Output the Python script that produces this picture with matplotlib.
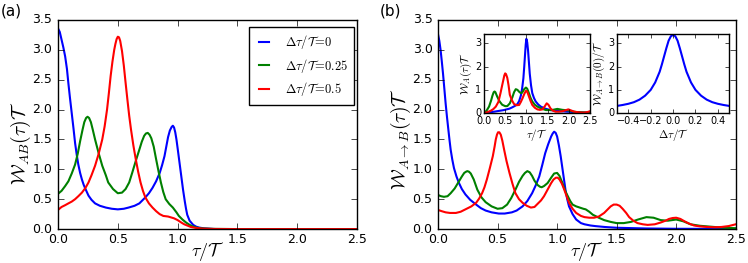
import matplotlib
matplotlib.use("Agg")
import matplotlib.pyplot as plt

# ---------------- data ----------------
# Panel (a): W_AB(tau) T
a_blue_x = [0.0, 0.015, 0.03, 0.045, 0.06, 0.075, 0.087, 0.1, 0.115, 0.13, 0.143, 0.157, 0.17, 0.185, 0.2,
            0.215, 0.23, 0.255, 0.28, 0.31, 0.35, 0.4, 0.45, 0.5, 0.55, 0.59, 0.64, 0.68, 0.71, 0.73, 0.76,
            0.79, 0.82, 0.85, 0.87, 0.89, 0.905, 0.92, 0.935, 0.95, 0.96, 0.97, 0.98, 0.99, 1.0, 1.015,
            1.03, 1.045, 1.06, 1.07, 1.08, 1.1, 1.13, 1.155, 1.18, 1.22, 1.27, 1.32, 1.5, 2.5]
a_blue_y = [3.36, 3.3, 3.17, 3.04, 2.89, 2.68, 2.44, 2.2, 1.94, 1.68, 1.44, 1.24, 1.08, 0.94, 0.83,
            0.74, 0.67, 0.56, 0.49, 0.43, 0.39, 0.36, 0.34, 0.33, 0.34, 0.36, 0.39, 0.43, 0.49, 0.53, 0.6,
            0.69, 0.8, 0.94, 1.07, 1.22, 1.38, 1.54, 1.65, 1.71, 1.73, 1.7, 1.62, 1.5, 1.35, 1.12,
            0.89, 0.66, 0.46, 0.34, 0.24, 0.14, 0.07, 0.04, 0.025, 0.012, 0.005, 0.0, 0.0, 0.0]
a_green_x = [0.0, 0.03, 0.06, 0.087, 0.115, 0.143, 0.165, 0.185, 0.205, 0.22, 0.235, 0.247, 0.26, 0.275,
             0.29, 0.31, 0.34, 0.37, 0.4, 0.42, 0.46, 0.5, 0.535, 0.565, 0.595, 0.62, 0.65, 0.68, 0.7,
             0.72, 0.735, 0.75, 0.765, 0.78, 0.8, 0.82, 0.84, 0.86, 0.88, 0.9, 0.93, 0.96, 0.99, 1.01,
             1.04, 1.07, 1.1, 1.13, 1.17, 1.21, 1.3, 1.5, 2.5]
a_green_y = [0.59, 0.64, 0.72, 0.8, 0.93, 1.08, 1.26, 1.47, 1.66, 1.79, 1.86, 1.88, 1.86, 1.79,
             1.67, 1.5, 1.27, 1.06, 0.9, 0.78, 0.67, 0.6, 0.61, 0.67, 0.78, 0.94, 1.14, 1.33, 1.46,
             1.56, 1.6, 1.61, 1.58, 1.52, 1.38, 1.17, 0.97, 0.78, 0.62, 0.5, 0.42, 0.36, 0.28, 0.22,
             0.16, 0.11, 0.07, 0.04, 0.02, 0.01, 0.003, 0.0, 0.0]
a_red_x = [0.0, 0.03, 0.06, 0.087, 0.115, 0.143, 0.17, 0.2, 0.23, 0.255, 0.28, 0.31, 0.34, 0.37, 0.39,
           0.41, 0.425, 0.44, 0.455, 0.47, 0.48, 0.49, 0.5, 0.51, 0.52, 0.535, 0.55, 0.565, 0.58, 0.595,
           0.61, 0.63, 0.65, 0.67, 0.69, 0.71, 0.73, 0.76, 0.79, 0.82, 0.85, 0.88, 0.92, 0.97, 1.0, 1.03,
           1.055, 1.08, 1.11, 1.15, 1.2, 1.3, 1.5, 2.5]
a_red_y = [0.32, 0.37, 0.4, 0.43, 0.46, 0.5, 0.55, 0.61, 0.69, 0.78, 0.9, 1.06, 1.26, 1.5, 1.72,
           2.0, 2.27, 2.56, 2.8, 3.0, 3.1, 3.18, 3.22, 3.21, 3.15, 2.98, 2.74, 2.45, 2.17, 1.9,
           1.67, 1.4, 1.17, 0.96, 0.78, 0.64, 0.53, 0.43, 0.36, 0.3, 0.25, 0.22, 0.21, 0.18, 0.15, 0.11,
           0.08, 0.06, 0.035, 0.02, 0.008, 0.002, 0.0, 0.0]

# Panel (b): W_{A->B}(tau) T
b_blue_x = [0.0, 0.011, 0.022, 0.032, 0.042, 0.053, 0.064, 0.075, 0.087, 0.097, 0.106, 0.12, 0.134,
            0.155, 0.176, 0.2, 0.23, 0.27, 0.32, 0.36, 0.4, 0.45, 0.51, 0.56, 0.62, 0.66, 0.71, 0.75,
            0.79, 0.82, 0.85, 0.875, 0.9, 0.925, 0.95, 0.963, 0.975, 0.988, 1.0, 1.015, 1.03, 1.05,
            1.07, 1.085, 1.1, 1.13, 1.16, 1.2, 1.23, 1.28, 1.32, 1.4, 1.5, 1.75, 2.0, 2.5]
b_blue_y = [3.26, 3.15, 2.99, 2.8, 2.6, 2.35, 2.1, 1.88, 1.66, 1.48, 1.33, 1.16, 1.02,
            0.88, 0.77, 0.67, 0.58, 0.49, 0.41, 0.35, 0.31, 0.28, 0.26, 0.26, 0.28, 0.31, 0.38, 0.47,
            0.6, 0.73, 0.88, 1.07, 1.27, 1.42, 1.55, 1.6, 1.63, 1.61, 1.55, 1.4, 1.22, 0.94,
            0.66, 0.5, 0.38, 0.25, 0.16, 0.1, 0.08, 0.06, 0.05, 0.035, 0.022, 0.01, 0.005, 0.002]
b_green_x = [0.0, 0.025, 0.05, 0.08, 0.106, 0.14, 0.176, 0.2, 0.22, 0.235, 0.246, 0.26, 0.275, 0.3,
             0.33, 0.365, 0.4, 0.45, 0.5, 0.54, 0.58, 0.615, 0.65, 0.68, 0.71, 0.73, 0.75, 0.77, 0.79,
             0.81, 0.835, 0.855, 0.87, 0.89, 0.92, 0.95, 0.975, 1.0, 1.02, 1.045, 1.07, 1.09, 1.11,
             1.13, 1.16, 1.19, 1.22, 1.24, 1.27, 1.3, 1.35, 1.395, 1.45, 1.5, 1.56, 1.62, 1.68, 1.75,
             1.81, 1.87, 1.93, 2.0, 2.06, 2.12, 2.2, 2.26, 2.35, 2.42, 2.5]
b_green_y = [0.57, 0.55, 0.54, 0.55, 0.6, 0.68, 0.8, 0.88, 0.94, 0.96, 0.97, 0.96, 0.93, 0.83,
             0.66, 0.53, 0.45, 0.38, 0.34, 0.35, 0.41, 0.52, 0.66, 0.79, 0.89, 0.94, 0.97, 0.95, 0.89,
             0.81, 0.74, 0.71, 0.7, 0.72, 0.77, 0.86, 0.93, 0.94, 0.89, 0.77, 0.63, 0.55, 0.47,
             0.41, 0.38, 0.36, 0.34, 0.33, 0.29, 0.24, 0.19, 0.15, 0.12, 0.1, 0.1, 0.12, 0.16, 0.2,
             0.19, 0.15, 0.14, 0.16, 0.13, 0.08, 0.055, 0.045, 0.03, 0.02, 0.015]
b_red_x = [0.0, 0.03, 0.064, 0.1, 0.15, 0.19, 0.23, 0.28, 0.32, 0.345, 0.37, 0.39, 0.41, 0.435, 0.46,
           0.475, 0.485, 0.495, 0.504, 0.515, 0.527, 0.54, 0.555, 0.575, 0.6, 0.625, 0.65, 0.68, 0.71,
           0.745, 0.78, 0.81, 0.835, 0.865, 0.89, 0.92, 0.95, 0.97, 0.99, 1.005, 1.02, 1.04, 1.06,
           1.08, 1.1, 1.13, 1.16, 1.2, 1.23, 1.27, 1.31, 1.35, 1.395, 1.425, 1.45, 1.475, 1.5, 1.525,
           1.55, 1.58, 1.605, 1.64, 1.675, 1.72, 1.76, 1.82, 1.87, 1.91, 1.94, 1.97, 2.0, 2.035, 2.07,
           2.11, 2.15, 2.2, 2.26, 2.32, 2.38, 2.44, 2.5]
b_red_y = [0.32, 0.3, 0.28, 0.27, 0.27, 0.29, 0.33, 0.38, 0.44, 0.51, 0.6, 0.7, 0.83, 1.02, 1.22,
           1.38, 1.5, 1.58, 1.62, 1.62, 1.58, 1.48, 1.33, 1.14, 0.94, 0.76, 0.6, 0.5, 0.44,
           0.39, 0.36, 0.37, 0.42, 0.48, 0.55, 0.66, 0.77, 0.83, 0.86, 0.86, 0.83, 0.76, 0.66,
           0.55, 0.44, 0.34, 0.27, 0.22, 0.2, 0.19, 0.19, 0.21, 0.27, 0.33, 0.38, 0.41, 0.41, 0.39,
           0.34, 0.27, 0.2, 0.14, 0.1, 0.08, 0.07, 0.08, 0.11, 0.14, 0.17, 0.185, 0.19, 0.17, 0.13,
           0.09, 0.06, 0.045, 0.035, 0.03, 0.035, 0.05, 0.08]

# Inset 1: W_A(tau) T
i1_blue_x = [0.0, 0.24, 0.47, 0.6, 0.67, 0.74, 0.79, 0.83, 0.87, 0.9, 0.93, 0.95, 0.97, 0.985, 1.0, 1.02,
             1.04, 1.06, 1.08, 1.11, 1.14, 1.18, 1.22, 1.28, 1.34, 1.45, 1.57, 1.75, 1.97, 2.2, 2.5]
i1_blue_y = [0.0, 0.06, 0.13, 0.19, 0.25, 0.32, 0.39, 0.52, 0.75, 1.05, 1.5, 2.0, 2.55, 2.95, 3.2, 3.05,
             2.7, 2.2, 1.7, 1.2, 0.86, 0.65, 0.5, 0.37, 0.28, 0.19, 0.13, 0.09, 0.06, 0.035, 0.015]
i1_green_x = [0.0, 0.06, 0.12, 0.17, 0.2, 0.23, 0.25, 0.27, 0.31, 0.37, 0.43, 0.5, 0.55, 0.61, 0.67, 0.71,
              0.75, 0.79, 0.83, 0.87, 0.9, 0.95, 0.99, 1.02, 1.06, 1.1, 1.14, 1.2, 1.26, 1.35, 1.46, 1.6,
              1.73, 1.85, 1.97, 2.1, 2.2, 2.35, 2.5]
i1_green_y = [0.0, 0.1, 0.28, 0.55, 0.75, 0.9, 0.93, 0.9, 0.72, 0.5, 0.36, 0.3, 0.3, 0.42, 0.68, 0.9,
              1.03, 1.0, 0.92, 0.86, 0.88, 1.03, 1.1, 1.05, 0.86, 0.65, 0.5, 0.36, 0.28, 0.2, 0.13, 0.13,
              0.18, 0.14, 0.12, 0.07, 0.04, 0.03, 0.02]
i1_red_x = [0.0, 0.08, 0.16, 0.22, 0.28, 0.34, 0.39, 0.43, 0.46, 0.48, 0.5, 0.52, 0.55, 0.58, 0.61, 0.66,
            0.71, 0.77, 0.83, 0.87, 0.91, 0.95, 0.99, 1.02, 1.06, 1.1, 1.14, 1.2, 1.26, 1.32, 1.38, 1.43,
            1.48, 1.52, 1.57, 1.63, 1.69, 1.77, 1.85, 1.92, 1.99, 2.06, 2.13, 2.25, 2.36, 2.45, 2.5]
i1_red_y = [0.0, 0.04, 0.1, 0.17, 0.28, 0.48, 0.86, 1.2, 1.45, 1.62, 1.71, 1.68, 1.52, 1.2, 0.79, 0.55,
            0.39, 0.34, 0.35, 0.48, 0.64, 0.82, 0.96, 0.93, 0.72, 0.52, 0.35, 0.23, 0.16, 0.14, 0.16, 0.28,
            0.42, 0.36, 0.2, 0.1, 0.06, 0.06, 0.08, 0.12, 0.16, 0.11, 0.06, 0.03, 0.02, 0.05, 0.08]

# Inset 2: W_{A->B}(0) / T vs delta tau
i2_x = [-0.5, -0.45, -0.4, -0.35, -0.3, -0.25, -0.2, -0.16, -0.12, -0.1, -0.08, -0.06, -0.04, -0.02, 0.0,
        0.02, 0.04, 0.06, 0.08, 0.1, 0.12, 0.16, 0.2, 0.25, 0.3, 0.35, 0.4, 0.45, 0.5]
i2_y = [0.31, 0.35, 0.4, 0.47, 0.58, 0.75, 1.0, 1.32, 1.78, 2.1, 2.45, 2.8, 3.12, 3.31, 3.37,
        3.31, 3.12, 2.8, 2.45, 2.1, 1.78, 1.32, 1.0, 0.75, 0.58, 0.47, 0.4, 0.35, 0.31]

legend_labels = [r'$\Delta\tau/\mathcal{T}\!=\!0$', r'$\Delta\tau/\mathcal{T}\!=\!0.25$',
                 r'$\Delta\tau/\mathcal{T}\!=\!0.5$']
main_xticks = [0.0, 0.5, 1.0, 1.5, 2.0, 2.5]
main_yticks = [0.0, 0.5, 1.0, 1.5, 2.0, 2.5, 3.0, 3.5]

# ---------------- styling ----------------
plt.style.use('classic')
plt.rcParams['figure.facecolor'] = 'white'
plt.rcParams['savefig.facecolor'] = 'white'
plt.rcParams['mathtext.fontset'] = 'cm'
plt.rcParams['font.family'] = ['DejaVu Sans']

colors = ['b', 'g', 'r']
lw = 1.5

fig = plt.figure(figsize=(7.48, 2.63), dpi=100)

def style_main(ax):
    ax.set_xlim(0, 2.5)
    ax.set_ylim(0, 3.5)
    ax.set_xticks(main_xticks)
    ax.set_yticks(main_yticks)
    ax.tick_params(labelsize=9, direction='in', top=True, right=True, length=4)
    ax.tick_params(axis='x', pad=3)
    ax.set_xlabel(r'$\tau/\mathcal{T}$', fontsize=13)
    ax.xaxis.set_label_coords(0.5, -0.052)
    ax.xaxis.label.set_va('top')

# Panel (a)
axa = fig.add_axes([0.0775, 0.129, 0.40, 0.795])
for xs, ys, c, lab in zip([a_blue_x, a_green_x, a_red_x], [a_blue_y, a_green_y, a_red_y], colors, legend_labels):
    axa.plot(xs, ys, color=c, lw=lw, label=lab)
style_main(axa)
axa.set_ylabel(r'$\mathcal{W}_{AB}(\tau)\mathcal{T}$', fontsize=14)
axa.yaxis.set_label_coords(-0.082, 0.41)
leg = axa.legend(loc='upper right', bbox_to_anchor=(0.99, 0.967), borderaxespad=0.0,
                 fontsize=9, frameon=True, fancybox=False, handlelength=1.4,
                 handletextpad=1.0, borderpad=0.5, labelspacing=0.45, numpoints=2)
leg.get_frame().set_edgecolor('black')
fig.text(0.001, 0.985, '(a)', fontsize=11, va='top', ha='left')

# Panel (b)
axb = fig.add_axes([0.5856, 0.129, 0.398, 0.795])
for xs, ys, c in zip([b_blue_x, b_green_x, b_red_x], [b_blue_y, b_green_y, b_red_y], colors):
    axb.plot(xs, ys, color=c, lw=lw)
style_main(axb)
axb.set_ylabel(r'$\mathcal{W}_{A\rightarrow B}(\tau)\mathcal{T}$', fontsize=14)
axb.yaxis.set_label_coords(-0.084, 0.43)
fig.text(0.508, 0.985, '(b)', fontsize=11, va='top', ha='left')

# Inset 1
ax1 = fig.add_axes([0.647, 0.570, 0.1417, 0.300])
for xs, ys, c in zip([i1_blue_x, i1_green_x, i1_red_x], [i1_blue_y, i1_green_y, i1_red_y], colors):
    ax1.plot(xs, ys, color=c, lw=lw)
ax1.set_xlim(0, 2.5)
ax1.set_ylim(0, 3.4)
ax1.set_xticks(main_xticks)
ax1.set_yticks([0, 1, 2, 3])
ax1.tick_params(labelsize=7, direction='in', top=True, right=True, length=3, pad=2)
ax1.set_xlabel(r'$\tau/\mathcal{T}$', fontsize=8, labelpad=1)
ax1.set_ylabel(r'$\mathcal{W}_A(\tau)\mathcal{T}$', fontsize=8, labelpad=1)

# Inset 2
ax2 = fig.add_axes([0.825, 0.570, 0.1497, 0.300])
ax2.plot(i2_x, i2_y, color='b', lw=lw)
ax2.set_xlim(-0.5, 0.5)
ax2.set_ylim(0, 3.4)
ax2.set_xticks([-0.4, -0.2, 0.0, 0.2, 0.4])
ax2.set_yticks([0, 1, 2, 3])
ax2.tick_params(labelsize=7, direction='in', top=True, right=True, length=3, pad=2)
ax2.set_xlabel(r'$\Delta\tau/\mathcal{T}$', fontsize=8, labelpad=1)
ax2.set_ylabel(r'$\mathcal{W}_{A\rightarrow B}(0)/\mathcal{T}$', fontsize=8, labelpad=1)

fig.savefig('out.png', dpi=100)
